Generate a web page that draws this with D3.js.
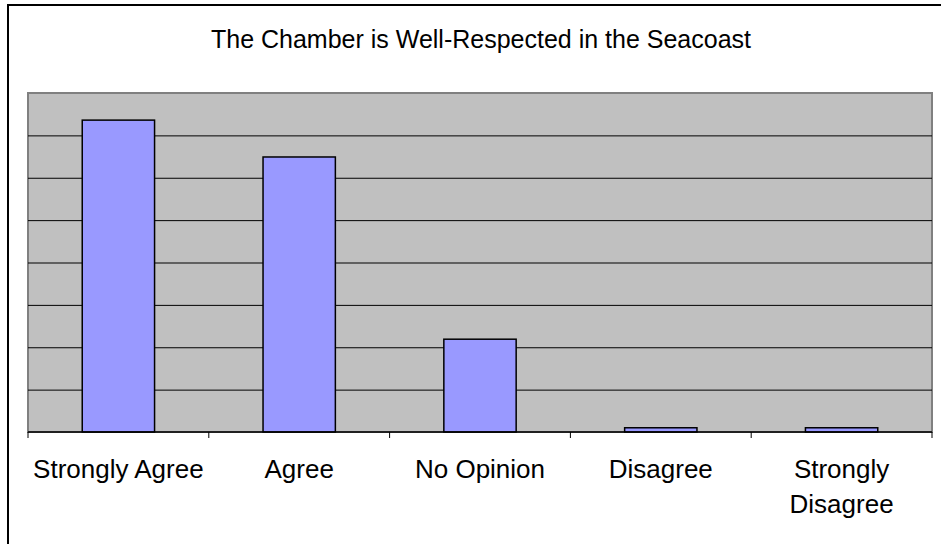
<!DOCTYPE html>
<html>
<head>
<meta charset="utf-8">
<script src="https://cdn.jsdelivr.net/npm/d3@7"></script>
<style>
  html, body { margin: 0; padding: 0; background: #fff; }
  svg { display: block; font-family: "Liberation Sans", Arial, sans-serif; }
</style>
</head>
<body>
<svg id="chart" width="941" height="544"></svg>
<script>
// Survey responses
const categories = ["Strongly Agree", "Agree", "No Opinion", "Disagree", "Strongly Disagree"];
const responses = [73.6, 64.9, 21.9, 1, 1];
const gridTicks = [0, 10, 20, 30, 40, 50, 60, 70, 80];
const chartTitle = "The Chamber is Well-Respected in the Seacoast";

const svg = d3.select("#chart");
const W = 941, H = 544;
const plot = { left: 28, right: 932, top: 93, bottom: 432 };

// Outer chart frame
svg.append("rect")
  .attr("x", 8).attr("y", 5)
  .attr("width", W + 20).attr("height", H + 20)
  .attr("fill", "#fff").attr("stroke", "#000").attr("stroke-width", 2);

const x = d3.scaleBand()
  .domain(categories)
  .range([plot.left, plot.right])
  .paddingInner(0.6).paddingOuter(0.3);

const y = d3.scaleLinear()
  .domain([0, 80])
  .range([plot.bottom, plot.top]);

// Plot background
svg.append("rect")
  .attr("x", plot.left).attr("y", plot.top)
  .attr("width", plot.right - plot.left).attr("height", plot.bottom - plot.top)
  .attr("fill", "#c0c0c0").attr("stroke", "#808080").attr("stroke-width", 2);

// Horizontal gridlines
svg.append("g")
  .attr("transform", `translate(${plot.left},0)`)
  .call(d3.axisLeft(y).tickValues(gridTicks.slice(1, -1))
    .tickSize(-(plot.right - plot.left)).tickFormat(""))
  .call(g => g.select(".domain").remove())
  .call(g => g.selectAll(".tick line").attr("stroke", "#000").attr("stroke-width", 1));

// Bars
svg.append("g")
  .selectAll("rect")
  .data(categories)
  .join("rect")
  .attr("x", d => x(d))
  .attr("y", (d, i) => y(responses[i]))
  .attr("width", x.bandwidth())
  .attr("height", (d, i) => y(0) - y(responses[i]))
  .attr("fill", "#9999ff")
  .attr("stroke", "#000")
  .attr("stroke-width", 1.5);

// Category axis with boundary ticks
const boundaries = d3.range(categories.length + 1).map(i => plot.left + i * (plot.right - plot.left) / categories.length);
const axisG = svg.append("g");
axisG.append("line")
  .attr("x1", plot.left).attr("x2", plot.right)
  .attr("y1", plot.bottom).attr("y2", plot.bottom)
  .attr("stroke", "#000").attr("stroke-width", 1.5);
axisG.selectAll("line.tick")
  .data(boundaries)
  .join("line")
  .attr("class", "tick")
  .attr("x1", d => d).attr("x2", d => d)
  .attr("y1", plot.bottom).attr("y2", plot.bottom + 6)
  .attr("stroke", "#000").attr("stroke-width", 1);

// Category labels (wrapped where needed)
const labelLines = {
  "Strongly Agree": ["Strongly Agree"],
  "Agree": ["Agree"],
  "No Opinion": ["No Opinion"],
  "Disagree": ["Disagree"],
  "Strongly Disagree": ["Strongly", "Disagree"]
};
const labels = axisG.selectAll("text.cat")
  .data(categories)
  .join("text")
  .attr("class", "cat")
  .attr("text-anchor", "middle")
  .attr("font-size", 26)
  .attr("fill", "#000");
labels.each(function(d) {
  const t = d3.select(this);
  labelLines[d].forEach((line, i) => {
    t.append("tspan")
      .attr("x", x(d) + x.bandwidth() / 2)
      .attr("y", 478 + i * 35)
      .text(line);
  });
});

// Title
svg.append("text")
  .attr("x", (plot.left + plot.right) / 2 + 1)
  .attr("y", 48)
  .attr("text-anchor", "middle")
  .attr("font-size", 25)
  .attr("fill", "#000")
  .text(chartTitle);
</script>
</body>
</html>
